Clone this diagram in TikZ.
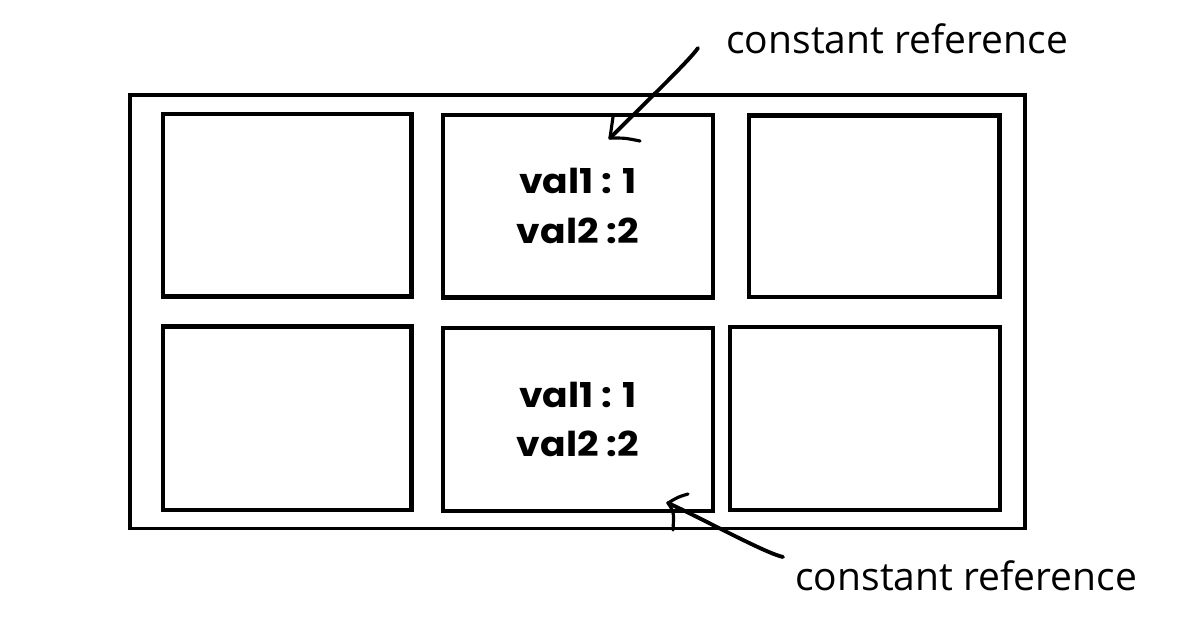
\documentclass[tikz,border=0pt]{standalone}
\usepackage{fontspec}
\setmainfont{Open Sans}
\newfontfamily\valfont{Poppins}[FakeStretch=1.1]
\begin{document}
\begin{tikzpicture}[x=0.02cm,y=-0.02cm,
  cellbox/.style={draw, line width=2.3pt, inner sep=0pt, outer sep=0pt,
    font=\valfont\bfseries\fontsize{19.5pt}{28.3pt}\selectfont, align=center},
  outerframe/.style={draw, line width=2pt, inner sep=0pt, outer sep=0pt},
  reflabel/.style={font=\fontsize{22.2pt}{26pt}\selectfont, anchor=base west, inner sep=0pt},
  ptr/.style={line width=2.2pt, line cap=round},
  barb/.style={line width=1.8pt, line cap=round}]
\useasboundingbox[fill=white] (0,0) rectangle (1200,628);
\node[outerframe, minimum width=17.9cm, minimum height=8.67cm] (frame) at (577.5,311.75) {};
\node[cellbox, minimum width=4.97cm, minimum height=3.65cm] (b1) at (287.25,205.25) {};
\node[cellbox, minimum width=5.4cm, minimum height=3.65cm] (b2) at (578,206.25) {val1 : 1\\val2 :2};
\node[cellbox, minimum width=5.01cm, minimum height=3.63cm] (b3) at (874.25,206.25) {};
\node[cellbox, minimum width=4.97cm, minimum height=3.67cm] (b4) at (287.25,418.25) {};
\node[cellbox, minimum width=5.4cm, minimum height=3.66cm] (b5) at (578,419.5) {val1 : 1\\val2 :2};
\node[cellbox, minimum width=5.4cm, minimum height=3.66cm] (b6) at (865,418.5) {};
\node[reflabel] (l1) at (726,54) {constant reference};
\node[reflabel] (l2) at (795,590) {constant reference};
% top arrow
\coordinate (a1s) at (698,48);
\coordinate (a1t) at (610,138);
\coordinate (a1u) at (613,117);
\coordinate (a1r) at (640,141);
\draw[ptr] (a1s) .. controls (690,60) and (640,108) .. (a1t);
\draw[barb] (a1t) .. controls (611,128) .. (a1u);
\draw[barb] (a1t) .. controls (625,138) .. (a1r);
% bottom arrow
\coordinate (a2s) at (783,557);
\coordinate (a2t) at (668,503);
\coordinate (a2u) at (688,494);
\coordinate (a2d) at (673,530);
\draw[ptr] (a2s) .. controls (765,553) and (705,520) .. (a2t);
\draw[barb] (a2t) .. controls (678,497) .. (a2u);
\draw[barb] (a2t) .. controls (674,512) .. (a2d);
\end{tikzpicture}
\end{document}
